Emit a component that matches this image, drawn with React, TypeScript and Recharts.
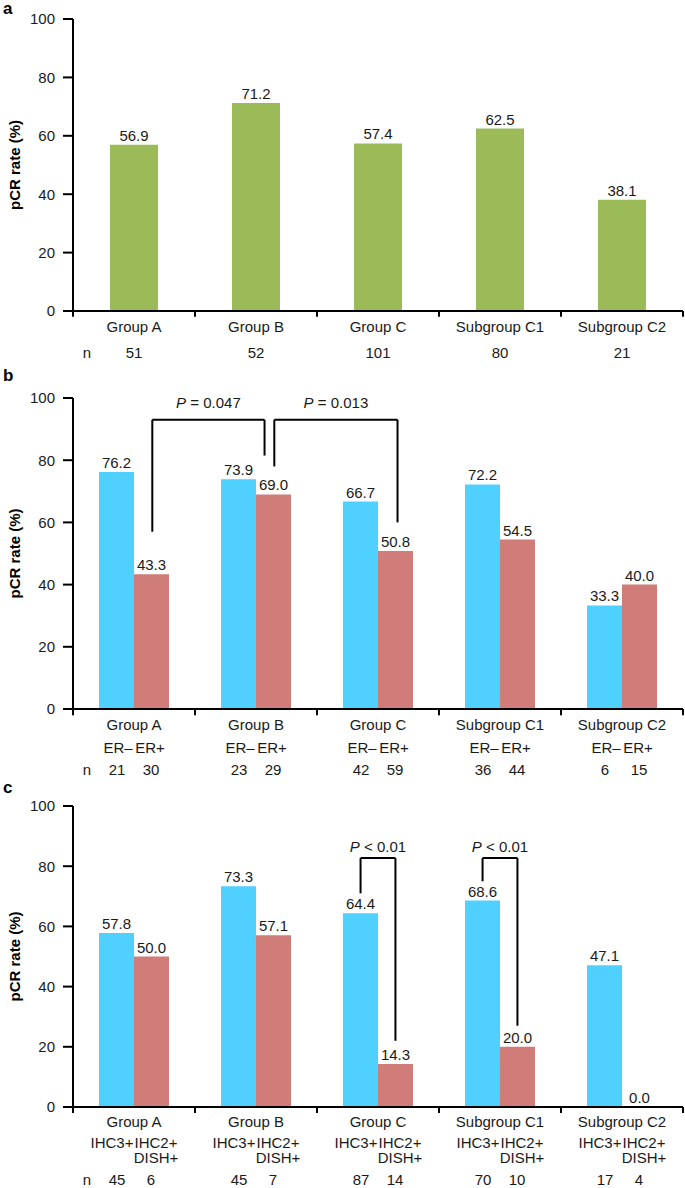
import React from 'react';
import { BarChart, Bar, XAxis, YAxis, LabelList, ReferenceLine, ReferenceDot } from 'recharts';

const FONT = '"Liberation Sans", Arial, Helvetica, sans-serif';
const INK = '#1a1a1a';
const W = 685;

// ---------- data ----------
const categories = ['Group A', 'Group B', 'Group C', 'Subgroup C1', 'Subgroup C2'];

const overallRate = [56.9, 71.2, 57.4, 62.5, 38.1];
const overallN = [51, 52, 101, 80, 21];

const erNegRate = [76.2, 73.9, 66.7, 72.2, 33.3];
const erPosRate = [43.3, 69.0, 50.8, 54.5, 40.0];
const erNegN = [21, 23, 42, 36, 6];
const erPosN = [30, 29, 59, 44, 15];

const ihc3Rate = [57.8, 73.3, 64.4, 68.6, 47.1];
const ihc2Rate = [50.0, 57.1, 14.3, 20.0, 0.0];
const ihc3N = [45, 45, 87, 70, 17];
const ihc2N = [6, 7, 14, 10, 4];

const yTicks = [0, 20, 40, 60, 80, 100];
const boundaries = [0, 1, 2, 3, 4, 5];

// significance brackets (x in category units 0..5, y in rate %)
const bracketsB = [
  { x1: 0.65, x2: 1.57, top: 93, y1: 57, y2: 81.5, textY: 98.4, op: ' = 0.047' },
  { x1: 1.65, x2: 2.66, top: 93, y1: 78, y2: 60, textY: 98.4, op: ' = 0.013' },
];
const bracketsC = [
  { x1: 2.357, x2: 2.643, top: 82.7, y1: 71, y2: 22, textY: 86.4, op: ' < 0.01' },
  { x1: 3.357, x2: 3.643, top: 82.7, y1: 75, y2: 27, textY: 86.4, op: ' < 0.01' },
];

const dataA = categories.map((c, i) => ({ cat: c, idx: i, rate: overallRate[i] }));
const dataB = categories.map((c, i) => ({ cat: c, idx: i, neg: erNegRate[i], pos: erPosRate[i] }));
const dataC = categories.map((c, i) => ({ cat: c, idx: i, ihc3: ihc3Rate[i], ihc2: ihc2Rate[i] }));

const GREEN = '#9BBB59';
const BLUE = '#50D0FF';
const RED = '#D07C78';

const txt = { fill: INK, fontSize: 15, fontFamily: FONT } as const;

const T = (props: any) => (
  <text dy="0.35em" textAnchor="middle" {...txt} {...props} />
);

// ---------- tick renderers ----------
const tickA = (p: any, pb: number) => {
  const { x, index, payload } = p;
  return (
    <g>
      <T x={x} y={pb + 16}>{payload.value}</T>
      {index === 0 && <T x={x - 47} y={pb + 42}>n</T>}
      <T x={x} y={pb + 42}>{overallN[index]}</T>
    </g>
  );
};

const tickB = (p: any, pb: number) => {
  const { x, index, payload } = p;
  return (
    <g>
      <T x={x} y={pb + 16}>{payload.value}</T>
      <T x={x - 16} y={pb + 39}>ER–</T>
      <T x={x + 16} y={pb + 39}>ER+</T>
      {index === 0 && <T x={x - 47} y={pb + 61}>n</T>}
      <T x={x - 17} y={pb + 61}>{erNegN[index]}</T>
      <T x={x + 17} y={pb + 61}>{erPosN[index]}</T>
    </g>
  );
};

const tickC = (p: any, pb: number) => {
  const { x, index, payload } = p;
  return (
    <g>
      <T x={x} y={pb + 15}>{payload.value}</T>
      <T x={x - 22} y={pb + 36}>IHC3+</T>
      <T x={x + 22} y={pb + 36}>IHC2+</T>
      <T x={x + 22} y={pb + 51}>DISH+</T>
      {index === 0 && <T x={x - 47} y={pb + 73}>n</T>}
      <T x={x - 17} y={pb + 73}>{ihc3N[index]}</T>
      <T x={x + 17} y={pb + 73}>{ihc2N[index]}</T>
    </g>
  );
};

type BarDef = { key: string; color: string };
type Bracket = { x1: number; x2: number; top: number; y1: number; y2: number; textY: number; op: string };

const line = { stroke: '#000', strokeWidth: 2 };

const Panel = ({
  top, height, marginTop, axisHeight, data, bars, barSize, renderTick, brackets,
}: {
  top: number; height: number; marginTop: number; axisHeight: number; data: any[];
  bars: BarDef[]; barSize: number; renderTick: (p: any, pb: number) => any; brackets: Bracket[];
}) => {
  const plotBottom = height - axisHeight;
  return (
    <div style={{ position: 'absolute', left: 0, top, width: W, height }}>
      <BarChart
        width={W}
        height={height}
        data={data}
        margin={{ top: marginTop, right: 2, bottom: 0, left: 0 }}
        barGap={0}
      >
        <XAxis
          dataKey="cat"
          height={axisHeight}
          axisLine={{ stroke: '#000', strokeWidth: 2 }}
          tickLine={false}
          interval={0}
          tick={(p: any) => renderTick(p, plotBottom)}
        />
        <XAxis xAxisId="num" dataKey="idx" type="number" domain={[0, 5]} allowDataOverflow hide />
        <YAxis
          domain={[0, 100]}
          allowDataOverflow
          ticks={yTicks}
          width={73}
          axisLine={{ stroke: '#000', strokeWidth: 2 }}
          tickLine={{ stroke: '#000', strokeWidth: 2 }}
          tickSize={10}
          tickMargin={8}
          tick={{ ...txt }}
        />
        {bars.map((b) => (
          <Bar key={b.key} dataKey={b.key} fill={b.color} barSize={barSize} minPointSize={0.5} isAnimationActive={false}>
            <LabelList
              dataKey={b.key}
              position="top"
              offset={4}
              formatter={(v: any) => Number(v).toFixed(1)}
              fill={INK}
              fontSize={15}
              fontFamily={FONT}
            />
          </Bar>
        ))}
        {boundaries.map((bx) => (
          <ReferenceLine
            key={'b' + bx}
            xAxisId="num"
            ifOverflow="visible"
            segment={[{ x: bx, y: 0 }, { x: bx, y: -2 }]}
            {...line}
          />
        ))}
        {brackets.map((br, i) => [
          <ReferenceLine key={'h' + i} xAxisId="num" ifOverflow="visible"
            segment={[{ x: br.x1, y: br.top }, { x: br.x2, y: br.top }]} {...line} />,
          <ReferenceLine key={'l' + i} xAxisId="num" ifOverflow="visible"
            segment={[{ x: br.x1, y: br.top }, { x: br.x1, y: br.y1 }]} {...line} />,
          <ReferenceLine key={'r' + i} xAxisId="num" ifOverflow="visible"
            segment={[{ x: br.x2, y: br.top }, { x: br.x2, y: br.y2 }]} {...line} />,
          <ReferenceDot key={'t' + i} xAxisId="num" ifOverflow="visible"
            x={(br.x1 + br.x2) / 2} y={br.textY} r={0}
            shape={(p: any) => (
              <text x={p.cx} y={p.cy} dy="0.35em" textAnchor="middle" {...txt}>
                <tspan fontStyle="italic">P</tspan>{br.op}
              </text>
            )}
          />,
        ])}
      </BarChart>
    </div>
  );
};

const panels = [
  { key: 'a', top: 0, height: 370, marginTop: 19, axisHeight: 59, data: dataA,
    bars: [{ key: 'rate', color: GREEN }], barSize: 48, renderTick: tickA, brackets: [] as Bracket[], titleY: 8 },
  { key: 'b', top: 365, height: 420, marginTop: 33, axisHeight: 76, data: dataB,
    bars: [{ key: 'neg', color: BLUE }, { key: 'pos', color: RED }], barSize: 35, renderTick: tickB, brackets: bracketsB, titleY: 375 },
  { key: 'c', top: 780, height: 408, marginTop: 26, axisHeight: 81, data: dataC,
    bars: [{ key: 'ihc3', color: BLUE }, { key: 'ihc2', color: RED }], barSize: 35, renderTick: tickC, brackets: bracketsC, titleY: 787 },
];

export default function App() {
  return (
    <div style={{ position: 'absolute', left: 0, top: 0, width: W, height: 1188, background: '#fff', overflow: 'hidden' }}>
      {panels.map((p) => (
        <Panel key={p.key} top={p.top} height={p.height} marginTop={p.marginTop} axisHeight={p.axisHeight}
          data={p.data} bars={p.bars} barSize={p.barSize} renderTick={p.renderTick} brackets={p.brackets} />
      ))}
      <svg width={W} height={1188} style={{ position: 'absolute', left: 0, top: 0, pointerEvents: 'none' }}>
        {panels.map((p) => {
          const cy = p.top + (p.marginTop + (p.height - p.axisHeight)) / 2;
          return (
            <g key={p.key}>
              <text x={3} y={p.titleY} dy="0.35em" fill="#000" fontSize={17} fontWeight="bold" fontFamily={FONT}>{p.key}</text>
              <text x={15} y={cy} dy="0.35em" transform={`rotate(-90 15 ${cy})`} textAnchor="middle"
                fill="#000" fontSize={15} fontWeight="bold" fontFamily={FONT}>pCR rate (%)</text>
            </g>
          );
        })}
      </svg>
    </div>
  );
}
